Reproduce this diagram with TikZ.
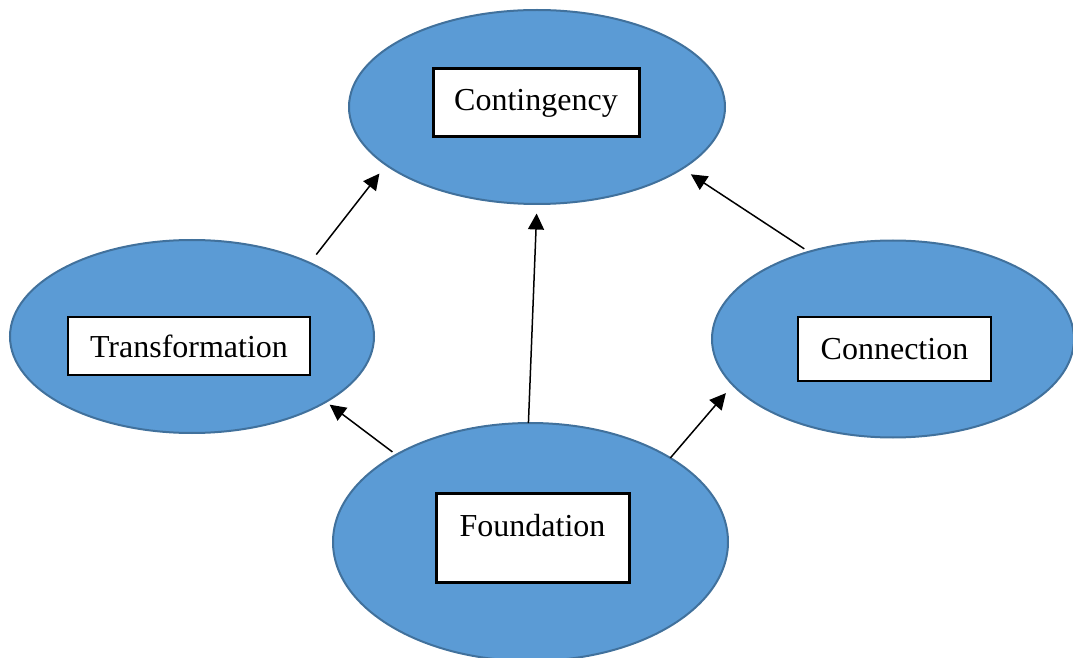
\documentclass[tikz,border=0pt]{standalone}
\usepackage{fontspec}
\setmainfont{Liberation Serif}
\usetikzlibrary{arrows.meta,shapes.geometric}
\definecolor{cfblue}{RGB}{91,155,213}
\definecolor{cfedge}{RGB}{65,113,156}

\begin{document}
\begin{tikzpicture}[x=.5pt,y=-.5pt,
    blob/.style={ellipse,draw=cfedge,fill=cfblue,line width=1pt,inner sep=0pt,outer sep=0pt},
    tag/.style={draw,fill=white,inner sep=0pt,font=\fontsize{16}{19}\selectfont},
    link/.style={-{Triangle[length=8pt,width=8pt]},line width=.75pt}]
    \useasboundingbox (0,0) rectangle (1073,658);
    % the four ovals
    \node[blob,minimum width=188pt,minimum height=97pt] (cont) at (537,107) {};
    \node[blob,minimum width=182pt,minimum height=96.5pt] (trans) at (192,336.5) {};
    \node[blob,minimum width=181pt,minimum height=98.5pt] (conn) at (893,339) {};
    \node[blob,minimum width=197.5pt,minimum height=119pt] (found) at (530.5,542) {};
    % labels in white boxes
    \node[tag,line width=1.5pt,minimum width=103pt,minimum height=34pt] (contbox) at (536,103) {Contingency};
    \node[tag,line width=.75pt,minimum width=121pt,minimum height=29pt] (transbox) at (189,346) {Transformation};
    \node[tag,line width=.75pt,minimum width=96.5pt,minimum height=32pt] (connbox) at (894.5,349) {Connection};
    \node[tag,line width=1.5pt,minimum width=96.5pt,text height=22pt,text depth=22.5pt] (foundbox) at (532.5,537.5) {Foundation};
    % arrows
    \draw[link,shorten <=5.3pt,shorten >=5.5pt] (trans.32.5) -- (cont.201.3);
    \draw[link,shorten >=4.75pt] (found.91.1) -- (cont.270);
    \draw[link,shorten <=2.7pt,shorten >=5.2pt] (conn.134.9) -- (cont.337.7);
    \draw[link,shorten <=2.35pt,shorten >=2.35pt] (found.147.3) -- (trans.334.5);
    \draw[link,shorten >=5.4pt] (found.31.3) -- (conn.196.9);
\end{tikzpicture}
\end{document}
